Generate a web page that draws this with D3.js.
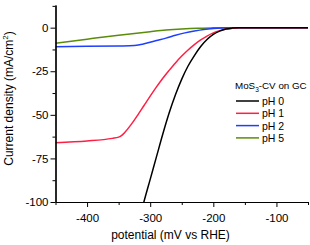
<!DOCTYPE html>
<html>
<head>
<meta charset="utf-8">
<script src="https://cdn.jsdelivr.net/npm/d3@7"></script>
<style>
  body { margin: 0; background: #fff; }
  text { font-family: "Liberation Sans", Arial, sans-serif; }
</style>
</head>
<body>
<div class="chart"></div>
<script>
// data (potential in mV vs RHE, current density in mA/cm2)
var pH0x = [-320, -310, -300, -290, -280, -270, -260, -250, -240, -230, -220, -210, -200, -190, -180, -170, -160, -50];
var pH0y = [-114, -100, -87, -74, -61, -49, -38.5, -29.5, -22, -16, -10.8, -6.8, -3.9, -2.0, -0.8, -0.25, 0, 0];

var pH1x = [-450, -400, -360, -350, -345, -340, -330, -320, -310, -300, -290, -280, -270, -260, -250, -240, -230, -220, -210, -200, -190, -180, -170, -160, -150, -50];
var pH1y = [-66, -65, -63.5, -62.8, -61.8, -60, -55.5, -50.3, -44.8, -39.3, -34, -29, -24.5, -20.2, -16.3, -12.8, -9.7, -7, -4.8, -3, -1.7, -0.8, -0.3, -0.1, 0, 0];

var pH2x = [-450, -400, -350, -325, -315, -305, -290, -275, -260, -245, -230, -215, -200, -185, -170, -50];
var pH2y = [-10.9, -10.7, -10.5, -10.3, -9.7, -8.8, -7.4, -6.0, -4.4, -3.0, -1.9, -1.0, -0.45, -0.15, 0, 0];

var pH5x = [-450, -400, -350, -300, -275, -250, -225, -200, -180, -50];
var pH5y = [-9.0, -6.6, -4.3, -2.3, -1.4, -0.75, -0.3, -0.1, 0, 0];

var seriesNames = ["pH 0", "pH 1", "pH 2", "pH 5"];
var seriesColors = ["#000000", "#ff1f44", "#1f3fff", "#5a8c0a"];

var xMajorTicks = [-400, -300, -200, -100];
var xMinorTicks = [-450, -350, -250, -150, -50];
var yMajorTicks = [0, -25, -50, -75, -100];
var yMinorTicks = [12.5, -12.5, -37.5, -62.5, -87.5];

var svgWidth = 310;
var svgHeight = 245;
var margin = { top: 5, right: 2, bottom: 43, left: 55.5 };
var width = svgWidth - margin.left - margin.right;
var height = svgHeight - margin.top - margin.bottom;

var svg = d3.select(".chart").append("svg")
  .attr("width", svgWidth)
  .attr("height", svgHeight);

var chartGroup = svg.append("g")
  .attr("transform", `translate(${margin.left}, ${margin.top})`);

var xScale = d3.scaleLinear().domain([-450, -50]).range([0, width]);
var yScale = d3.scaleLinear().domain([-100, 13]).range([height, 0]);

chartGroup.append("clipPath").attr("id", "plotClip")
  .append("rect").attr("x", 0).attr("y", 0).attr("width", width).attr("height", height);

// curves
var allSeries = [[pH0x, pH0y], [pH1x, pH1y], [pH2x, pH2y], [pH5x, pH5y]];
var line = d3.line()
  .x(d => xScale(d[0]))
  .y(d => yScale(d[1]))
  .curve(d3.curveMonotoneX);

// draw green first so black ends up on top
for (var i = allSeries.length - 1; i >= 0; i--) {
  var pts = allSeries[i][0].map((x, k) => [x, allSeries[i][1][k]]);
  chartGroup.append("path")
    .datum(pts)
    .attr("clip-path", "url(#plotClip)")
    .attr("fill", "none")
    .attr("stroke", seriesColors[i])
    .attr("stroke-width", 1.5)
    .attr("d", line);
}

// axes
var bottomAxis = d3.axisBottom(xScale).tickValues(xMajorTicks).tickSize(5).tickSizeOuter(0).tickFormat(d => String(d));
var bottomMinor = d3.axisBottom(xScale).tickValues(xMinorTicks).tickSize(3).tickSizeOuter(0).tickFormat("");
var leftAxis = d3.axisLeft(yScale).tickValues(yMajorTicks).tickSize(5).tickSizeOuter(0).tickFormat(d => String(d));
var leftMinor = d3.axisLeft(yScale).tickValues(yMinorTicks).tickSize(3).tickSizeOuter(0).tickFormat("");

var xAxis = chartGroup.append("g").attr("transform", `translate(0, ${height})`).call(bottomAxis);
chartGroup.append("g").attr("transform", `translate(0, ${height})`).call(bottomMinor);
var yAxis = chartGroup.append("g").call(leftAxis);
chartGroup.append("g").call(leftMinor);

chartGroup.selectAll(".domain").attr("stroke", "#000").attr("stroke-width", 1.2);
chartGroup.selectAll(".tick line").attr("stroke", "#000");
xAxis.selectAll("text").attr("font-size", 11.5).attr("fill", "#000").attr("dy", "1.0em");
yAxis.selectAll("text").attr("font-size", 11.5).attr("fill", "#000").attr("x", -7);

// axis titles
chartGroup.append("text")
  .attr("x", 115)
  .attr("y", height + 37)
  .attr("text-anchor", "middle")
  .attr("font-size", 12)
  .text("potential (mV vs RHE)");

var yTitle = chartGroup.append("text")
  .attr("transform", `translate(-43, ${height / 2 - 5}) rotate(-90)`)
  .attr("text-anchor", "middle")
  .attr("font-size", 12);
yTitle.append("tspan").text("Current density (mA/cm");
yTitle.append("tspan").attr("font-size", 8).attr("dy", -5).text("2");
yTitle.append("tspan").attr("dy", 5).text(")");

// legend
var legend = chartGroup.append("g").attr("transform", `translate(${235 - margin.left}, ${89 - margin.top})`);
var legTitle = legend.append("text").attr("x", 0).attr("y", 0).attr("font-size", 9.8);
legTitle.append("tspan").text("MoS");
legTitle.append("tspan").attr("font-size", 6.5).attr("dy", 3).text("3");
legTitle.append("tspan").attr("dy", -3).text("-CV on GC");

seriesNames.forEach(function(name, i) {
  var row = legend.append("g").attr("transform", `translate(1, ${12 + i * 12.3})`);
  row.append("line").attr("x1", 0).attr("x2", 23).attr("y1", 0).attr("y2", 0)
    .attr("stroke", seriesColors[i]).attr("stroke-width", 1.5);
  row.append("text").attr("x", 26).attr("y", 4).attr("font-size", 10.5).text(name);
});
</script>
</body>
</html>
